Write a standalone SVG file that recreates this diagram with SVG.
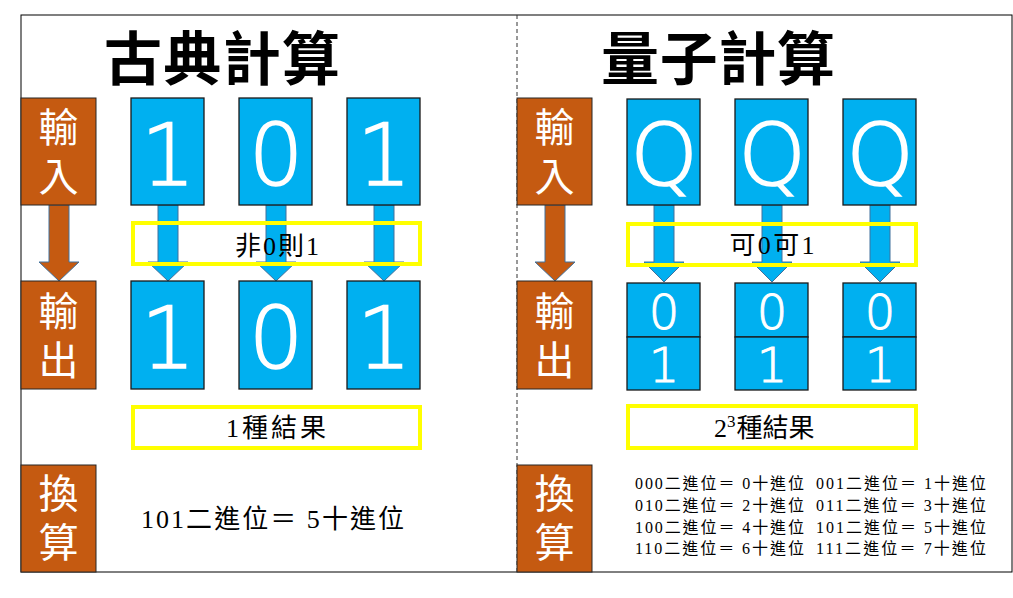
<svg xmlns="http://www.w3.org/2000/svg" width="1013" height="598" viewBox="0 0 1013 598">
<style>
.org{fill:#C55A11;stroke:#262626;stroke-width:1}
.blu{fill:#00B0F0;stroke:#1a1a1a;stroke-width:1.3}
.yel{fill:none;stroke:#FFFF00;stroke-width:4}
.arrO{fill:#C55A11;stroke:#41719C;stroke-width:1}
.arrB{fill:#00B0F0;stroke:#41719C;stroke-width:1}
.lab{font-family:"Noto Sans CJK TC","Noto Sans CJK SC",sans-serif;font-size:40px;fill:#fff;text-anchor:middle;writing-mode:vertical-rl;letter-spacing:9px}
.title{font-family:"Noto Sans CJK TC","Noto Sans CJK SC",sans-serif;font-size:58px;font-weight:700;fill:#000;text-anchor:middle}
.big{font-family:"DejaVu Sans",sans-serif;font-size:86px;font-weight:200;fill:#fff;stroke:#fff;stroke-width:1.6;text-anchor:middle}
.mid{font-family:"DejaVu Sans",sans-serif;font-size:48px;font-weight:200;fill:#fff;stroke:#fff;stroke-width:1;text-anchor:middle}
.txt{font-family:"Liberation Serif","Noto Sans CJK TC",serif;font-size:26px;fill:#000;text-anchor:middle}
.tbl{font-family:"Liberation Serif","Noto Sans CJK TC",serif;font-size:16px;fill:#000}
</style>
<rect x="0" y="0" width="1013" height="598" fill="#fff"/>
<rect x="21" y="15" width="991" height="557" fill="none" stroke="#000" stroke-width="1"/>
<line x1="517" y1="15" x2="517" y2="572" stroke="#333" stroke-width="1" stroke-dasharray="4,3"/>

<g id="connectors">
  <path class="arrO" d="M49,205 L69,205 L69,262 L79,262 L59,281 L39,262 L49,262 Z"/>
  <path class="arrB" d="M158,205 L178,205 L178,262 L188,262 L168,281 L148,262 L158,262 Z"/>
  <path class="arrB" d="M266,205 L286,205 L286,262 L296,262 L276,281 L256,262 L266,262 Z"/>
  <path class="arrB" d="M374,205 L394,205 L394,262 L404,262 L384,281 L364,262 L374,262 Z"/>
  <path class="arrO" d="M545,205 L565,205 L565,262 L575,262 L555,281 L535,262 L545,262 Z"/>
  <path class="arrB" d="M654,205 L674,205 L674,262 L684,262 L664,282 L644,262 L654,262 Z"/>
  <path class="arrB" d="M762,205 L782,205 L782,262 L792,262 L772,282 L752,262 L762,262 Z"/>
  <path class="arrB" d="M870,205 L890,205 L890,262 L900,262 L880,282 L860,262 L870,262 Z"/>
</g>

<g id="title-classic"><text class="title" x="222" y="80" textLength="236" lengthAdjust="spacing">古典計算</text></g>
<g id="title-quantum"><text class="title" x="718" y="80" textLength="234" lengthAdjust="spacing">量子計算</text></g>

<g id="c-input"><rect class="org" x="21" y="98" width="75" height="107"/><text class="lab" x="58.5" y="156">輸入</text></g>
<g id="c-output"><rect class="org" x="21" y="281" width="75" height="108"/><text class="lab" x="58.5" y="339.5">輸出</text></g>
<g id="c-convert"><rect class="org" x="21" y="465" width="75" height="107"/><text class="lab" x="58.5" y="522">換算</text></g>

<g id="c-in1"><rect class="blu" x="131" y="98" width="73" height="107"/><text class="big" x="168" y="185">1</text></g>
<g id="c-in2"><rect class="blu" x="239" y="98" width="73" height="107"/><text class="big" x="276" y="185">0</text></g>
<g id="c-in3"><rect class="blu" x="347" y="98" width="73" height="107"/><text class="big" x="384" y="185">1</text></g>

<g id="c-out1"><rect class="blu" x="131" y="281" width="73" height="108"/><text class="big" x="168" y="368">1</text></g>
<g id="c-out2"><rect class="blu" x="239" y="281" width="73" height="108"/><text class="big" x="276" y="368">0</text></g>
<g id="c-out3"><rect class="blu" x="347" y="281" width="73" height="108"/><text class="big" x="384" y="368">1</text></g>

<g id="c-rule"><rect class="yel" x="133" y="223" width="287" height="41"/><text class="txt" x="277" y="255" textLength="84" lengthAdjust="spacing">非0則1</text></g>
<g id="c-result"><rect class="yel" x="133" y="407" width="287" height="41"/><text class="txt" x="276" y="437" textLength="100" lengthAdjust="spacing">1種結果</text></g>
<g id="c-conv"><text class="txt" x="141" y="528" style="text-anchor:start" textLength="263" lengthAdjust="spacing">101二進位＝ 5十進位</text></g>

<g id="q-input"><rect class="org" x="517" y="98" width="75" height="107"/><text class="lab" x="554.5" y="156">輸入</text></g>
<g id="q-output"><rect class="org" x="517" y="281" width="75" height="108"/><text class="lab" x="554.5" y="339.5">輸出</text></g>
<g id="q-convert"><rect class="org" x="517" y="465" width="75" height="107"/><text class="lab" x="554.5" y="522">換算</text></g>

<g id="q-in1"><rect class="blu" x="627" y="99" width="73" height="106"/><text class="big" x="664" y="185">Q</text></g>
<g id="q-in2"><rect class="blu" x="735" y="99" width="73" height="106"/><text class="big" x="772" y="185">Q</text></g>
<g id="q-in3"><rect class="blu" x="843" y="99" width="73" height="106"/><text class="big" x="880" y="185">Q</text></g>

<g id="q-out1"><rect class="blu" x="627" y="283" width="73" height="54"/><rect class="blu" x="627" y="337" width="73" height="53"/><text class="mid" x="664" y="329">0</text><text class="mid" x="664" y="382">1</text></g>
<g id="q-out2"><rect class="blu" x="735" y="283" width="73" height="54"/><rect class="blu" x="735" y="337" width="73" height="53"/><text class="mid" x="772" y="329">0</text><text class="mid" x="772" y="382">1</text></g>
<g id="q-out3"><rect class="blu" x="843" y="283" width="73" height="54"/><rect class="blu" x="843" y="337" width="73" height="53"/><text class="mid" x="880" y="329">0</text><text class="mid" x="880" y="382">1</text></g>

<g id="q-rule"><rect class="yel" x="628" y="224" width="288" height="41"/><text class="txt" x="772" y="254" textLength="85" lengthAdjust="spacing">可0可1</text></g>
<g id="q-result"><rect class="yel" x="628" y="406" width="288" height="42"/><text class="txt" x="714" y="437" style="text-anchor:start">2<tspan font-size="17" dy="-10">3</tspan><tspan dy="10" dx="1">種結果</tspan></text></g>

<g id="q-table">
  <text class="tbl" x="635" y="489" textLength="169" lengthAdjust="spacing">000二進位＝ 0十進位</text>
  <text class="tbl" x="816" y="489" textLength="170" lengthAdjust="spacing">001二進位＝ 1十進位</text>
  <text class="tbl" x="635" y="511" textLength="169" lengthAdjust="spacing">010二進位＝ 2十進位</text>
  <text class="tbl" x="816" y="511" textLength="170" lengthAdjust="spacing">011二進位＝ 3十進位</text>
  <text class="tbl" x="635" y="533" textLength="169" lengthAdjust="spacing">100二進位＝ 4十進位</text>
  <text class="tbl" x="816" y="533" textLength="170" lengthAdjust="spacing">101二進位＝ 5十進位</text>
  <text class="tbl" x="635" y="554" textLength="169" lengthAdjust="spacing">110二進位＝ 6十進位</text>
  <text class="tbl" x="816" y="554" textLength="170" lengthAdjust="spacing">111二進位＝ 7十進位</text>
</g>
</svg>
